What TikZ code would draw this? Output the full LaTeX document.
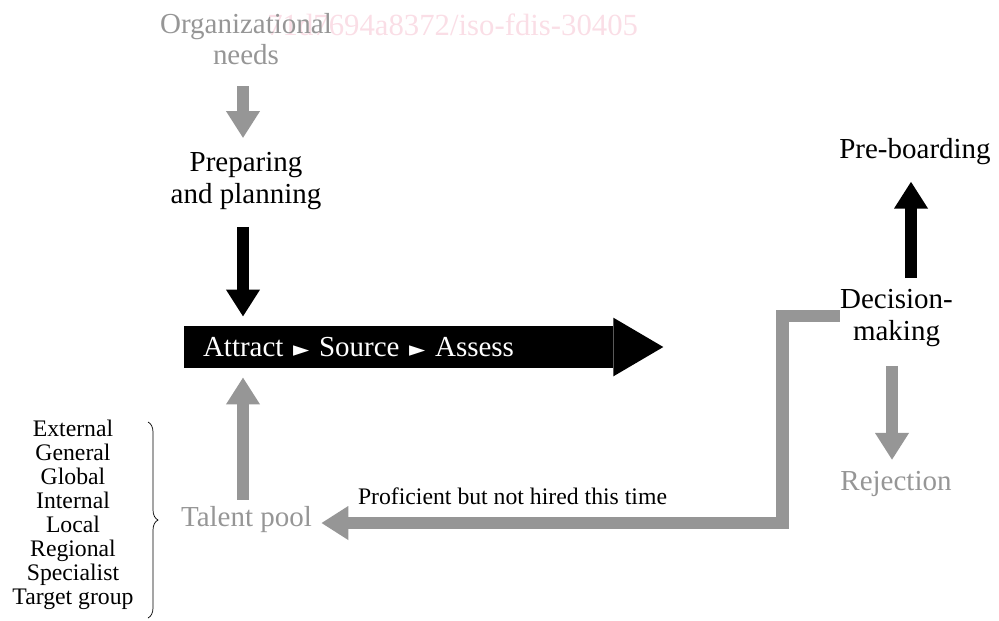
\documentclass[tikz,border=0pt]{standalone}
\usepackage{fontspec}
\setmainfont{Liberation Serif}
\newfontfamily\ptrfont{DejaVu Sans}
\usetikzlibrary{arrows.meta,decorations.pathreplacing}
\definecolor{isogray}{RGB}{150,150,150}
\definecolor{wmpink}{RGB}{250,222,230}
\newcommand{\lblsize}{\fontsize{16.5}{18}\selectfont}
\newcommand{\smallsize}{\fontsize{13.5}{13.7}\selectfont}
\newcommand{\ptr}{{\ptrfont\fontsize{12}{12}\selectfont ►}}
\tikzset{
  lbl/.style={inner sep=0pt, align=center, font=\lblsize},
  greylbl/.style={lbl, text=isogray},
  flowbar/.style={fill=black, text=white, minimum width=8.58cm, minimum height=0.84cm,
    inner xsep=0.38cm, inner ysep=0pt, text width=7.82cm, align=left,
    font=\fontsize{16.5}{18}\selectfont},
  fatarrow/.style={line width=0.24cm, -{Triangle[length=0.54cm,width=0.64cm]}},
  greyarrow/.style={fatarrow, draw=isogray},
  blackarrow/.style={fatarrow, draw=black},
}
\begin{document}
\begin{tikzpicture}[x=0.02cm, y=-0.02cm]
  \useasboundingbox (0,0) rectangle (999,620);
  \node[anchor=base west, inner sep=0pt, text=wmpink, font=\fontsize{17.5}{18}\selectfont] (mark) at (267,35) {71d7694a8372/iso-fdis-30405};
  \node[greylbl] (org) at (246,39) {Organizational\\needs};
  \node[lbl] (prep) at (246,181) {Preparing\\and planning};
  \node[flowbar] (flow) at (398.5,347) {Attract \ptr{} Source \ptr{} Assess};
  \fill ([yshift=0.16cm]flow.north east) -- ([xshift=1cm]flow.east) -- ([yshift=-0.16cm]flow.south east) -- cycle;
  \node[greylbl] (talent) at (246.5,520) {Talent pool};
  \node[inner sep=0pt, align=center, font=\smallsize] (pools) at (73,515)
    {External\\General\\Global\\Internal\\Local\\Regional\\Specialist\\Target group};
  \draw[decorate, decoration={brace, amplitude=0.2cm}] (148,422) -- (148,618);
  \node[lbl] (decision) at (896.5,318) {Decision-\\making};
  \node[lbl] (preboard) at (915,152) {Pre-boarding};
  \node[greylbl] (reject) at (896,484) {Rejection};
  \node[inner sep=0pt, font=\smallsize] (proficient) at (512.5,496) {Proficient but not hired this time};
  \draw[greyarrow, shorten <=0.42cm, shorten >=0.28cm] ([xshift=-0.06cm]org.south) -- ([xshift=-0.06cm]prep.north);
  \draw[blackarrow, shorten <=0.34cm, shorten >=0.18cm] ([xshift=-0.06cm]prep.south) -- ([xshift=-0.06cm]prep.south |- flow.north);
  \draw[greyarrow, shorten <=0.14cm, shorten >=0.18cm] ([xshift=-0.07cm]talent.north) -- ([xshift=-0.07cm]talent.north |- flow.south);
  \draw[blackarrow, shorten <=0.22cm, shorten >=0.32cm] ([xshift=-0.08cm]preboard.south |- decision.north) -- ([xshift=-0.08cm]preboard.south);
  \draw[greyarrow, shorten <=0.38cm, shorten >=0.22cm] ([xshift=-0.09cm]decision.south) -- ([xshift=-0.09cm]decision.south |- reject.north);
  \draw[greyarrow, line width=0.25cm, shorten >=0.18cm] ([yshift=0.04cm]decision.west) -- ++(-1.15cm,0) |- ([yshift=-0.06cm]talent.east);
\end{tikzpicture}
\end{document}
